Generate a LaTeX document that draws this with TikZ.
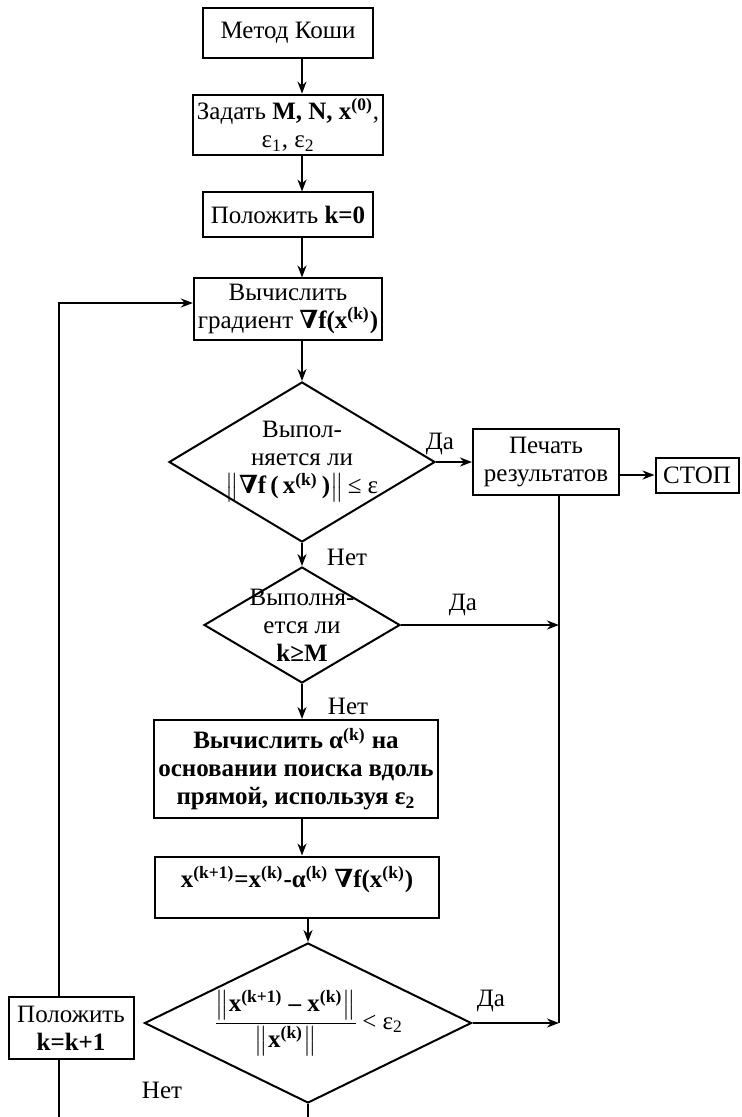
\documentclass[tikz,border=0pt]{standalone}
\usepackage{amsmath}
\usepackage{fontspec}
\setmainfont{Liberation Serif}
\newfontfamily\nablafont{DejaVu Serif}
\usepackage{tikz}
\usetikzlibrary{arrows.meta,positioning,shapes.geometric}
\newcommand{\shrift}{\fontsize{12.5}{14}\selectfont}
\newcommand{\grad}{{\nablafont\bfseries ∇}}
\newcommand{\sups}[1]{\textsuperscript{(#1)}}
\newcommand{\sbs}[1]{\textsubscript{#1}}

\tikzset{
  blok/.style={draw,line width=1pt,rectangle,align=center,inner sep=2pt,font=\shrift},
  uslovie/.style={draw,line width=1pt,diamond,align=center,font=\shrift},
  metka/.style={font=\shrift},
  linia/.style={line width=1.2pt},
  strelka/.style={line width=1.2pt,-{Stealth[length=6pt,width=4.5pt]}}
}

\begin{document}
\begin{tikzpicture}[x=0.5pt,y=-0.5pt]
    \useasboundingbox (0,0) rectangle (741,1117);
    % vspomogatelnye tochki
    \coordinate (os) at (302,0);
    \coordinate (levo) at (59,0);
    \coordinate (pravo) at (559,0);
    \coordinate (niz) at (0,1117);
    % bloki
    \node[blok,minimum width=85pt,minimum height=25pt] (start) at (288,33) {Метод Коши};
    \node[blok,minimum width=85pt,minimum height=30pt] (vvod) at (288,125)
      {Задать \textbf{M, N, x\sups{0}},\\ ε\sbs{1}, ε\sbs{2}};
    \node[blok,minimum width=85pt,minimum height=22.5pt] (k0) at (288,215) {Положить \textbf{k=0}};
    \node[blok,minimum width=85pt,minimum height=30.5pt] (grad) at (288,309)
      {Вычислить\\ градиент \textbf{\grad f(x\sups{k})}};
    \node[uslovie,minimum width=133pt,minimum height=80pt,shape aspect=1.66,inner sep=-10pt] (usl1) at (302,462)
      {Выпол-\\ няется ли\\ $\left\|\text{\bfseries\grad f\,(\,x\sups{k}\,)}\right\|$\,≤ ε};
    \node[blok,minimum width=73pt,minimum height=33pt] (pechat) at (546,462) {Печать\\ результатов};
    \node[blok,minimum width=41.5pt,minimum height=17.5pt] (stop) at (697,475) {СТОП};
    \node[uslovie,minimum width=98pt,minimum height=58pt,shape aspect=1.69,inner sep=-5pt] (usl2) at (302,625)
      {Выполня-\\ ется ли\\ \textbf{k≥M}};
    \node[blok,minimum width=141pt,minimum height=49pt,font=\shrift\bfseries] (alfa) at (296,769)
      {Вычислить α\sups{k} на\\ основании поиска вдоль\\ прямой, используя ε\sbs{2}};
    \node[blok,minimum width=142pt,minimum height=30.5pt,font=\shrift\bfseries] (shag) at (297,887)
      {x\sups{k+1}=x\sups{k}-α\sups{k} \grad f(x\sups{k})\\[-4pt]\mbox{}};
    \node[uslovie,minimum width=163.5pt,minimum height=80pt,shape aspect=2,inner sep=-6pt] (usl3) at (308,1023)
      {$\dfrac{\left\|\text{\bfseries x\sups{k+1} – x\sups{k}}\right\|}{\left\|\text{\bfseries x\sups{k}}\right\|}$\,< ε\sbs{2}};
    \node[blok,minimum width=62.5pt,minimum height=31pt] (kinc) at (71,1028) {Положить\\ \textbf{k=k+1}};
    % metki
    \node[metka] (da1) at (440,444) {Да};
    \node[metka] (net1) at (347,557) {Нет};
    \node[metka] (da2) at (463,605) {Да};
    \node[metka] (net2) at (348,706) {Нет};
    \node[metka] (da3) at (491,1001) {Да};
    \node[metka] (net3) at (162,1090) {Нет};
    % strelki
    \draw[strelka] (start.south -| os) -- (vvod.north -| os);
    \draw[strelka] (vvod.south -| os) -- (k0.north -| os);
    \draw[strelka] (k0.south -| os) -- (grad.north -| os);
    \draw[strelka] (grad.south -| os) -- (usl1.north);
    \draw[strelka] (usl1.south) -- (usl2.north);
    \draw[strelka] (usl2.south) -- (alfa.north -| os);
    \draw[strelka] (alfa.south -| os) -- (shag.north -| os);
    \draw[strelka] (shag.south -| usl3) -- (usl3.north);
    \draw[strelka] (usl1.east) -- (pechat.west);
    \draw[strelka] (pechat.east |- stop) -- (stop.west);
    \draw[strelka] (usl2.east) -- (usl2.east -| pravo);
    \draw[strelka] (usl3.east) -- (usl3.east -| pravo);
    \draw[linia] (pechat.south -| pravo) -- (usl3.east -| pravo);
    % vozvrat
    \draw[linia] (usl3.south) -- (usl3.south |- niz);
    \draw[linia] (kinc.south -| levo) -- (levo |- niz);
    \draw[strelka] (kinc.north -| levo) |- ([yshift=3pt]grad.west);
\end{tikzpicture}
\end{document}
